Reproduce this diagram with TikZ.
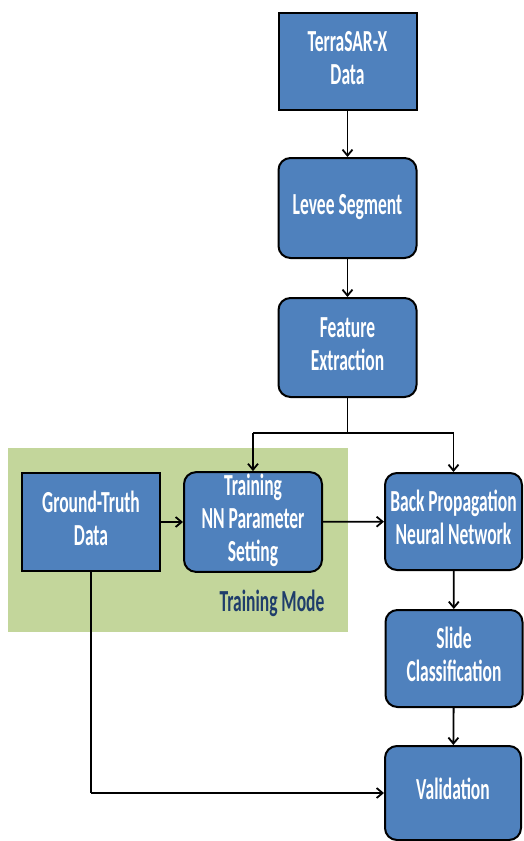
\documentclass[tikz,border=0pt]{standalone}
\usepackage{fontspec}
\setmainfont{Carlito}
\usetikzlibrary{arrows.meta}
\definecolor{boxblue}{HTML}{4F81BD}
\definecolor{modegreen}{HTML}{C3D69B}
\definecolor{modetext}{HTML}{1F3D6B}
\newcommand{\vst}[1]{\scalebox{1}[1.75]{\begin{tabular}{@{}c@{}}#1\end{tabular}}}
\begin{document}
\begin{tikzpicture}[x=1pt,y=-1pt,
  basebox/.style={draw=black, line width=2pt, fill=boxblue, text=white,
    font=\fontsize{17.5}{19}\selectfont\bfseries, minimum width=138pt,
    minimum height=98pt, inner sep=0pt, align=center},
  sqbox/.style={basebox},
  rbox/.style={basebox, rounded corners=12pt},
  conn/.style={draw=black, line width=1.8pt},
  arr/.style={conn, -{Straight Barb[length=6pt,width=10pt,line width=1.8pt]}}]
\useasboundingbox (0,0) rectangle (523,841);
\fill[modegreen] (8,448) rectangle (348,632);
\node[text=modetext, font=\fontsize{17.5}{19}\selectfont\bfseries] (mode) at (272,605) {\vst{Training Mode}};
\node[sqbox, minimum height=97pt] (tsx) at (347.5,61.5) {\vst{TerraSAR-X\\Data}};
\node[rbox, minimum height=100pt] (levee) at (347.5,208) {\vst{Levee Segment}};
\node[rbox, minimum height=99pt] (feat) at (347.5,347.5) {\vst{Feature\\Extraction}};
\node[sqbox] (gt) at (91,522) {\vst{Ground-Truth\\Data}};
\node[rbox] (train) at (253,522) {\vst{Training\\NN Parameter\\Setting}};
\node[rbox, minimum width=137pt, minimum height=97pt] (bp) at (453.5,521.5) {\vst{Back Propagation\\Neural Network}};
\node[rbox, minimum width=137pt, minimum height=97pt] (slide) at (454,658.5) {\vst{Slide\\Classification}};
\node[rbox, minimum width=136pt, minimum height=94pt] (valid) at (453,793) {\vst{Validation}};
\coordinate (split) at (347.5,433);
\coordinate (lsplit) at (253,433);
\coordinate (rsplit) at (453.5,433);
\coordinate (gtcorner) at (91,793);
\draw[arr] (tsx) -- (levee);
\draw[arr] (levee) -- (feat);
\draw[conn] (feat.south) -- (split);
\draw[conn] (lsplit) -- (rsplit);
\draw[arr] (lsplit) -- (train.north);
\draw[arr] (rsplit) -- (bp.north);
\draw[arr] (gt) -- (train);
\draw[arr] (train) -- (bp);
\draw[arr] (bp) -- (slide);
\draw[arr] (slide) -- (valid);
\draw[conn] (gt.south) -- (gtcorner);
\draw[arr] (gtcorner) -- (valid.west);
\end{tikzpicture}
\end{document}
